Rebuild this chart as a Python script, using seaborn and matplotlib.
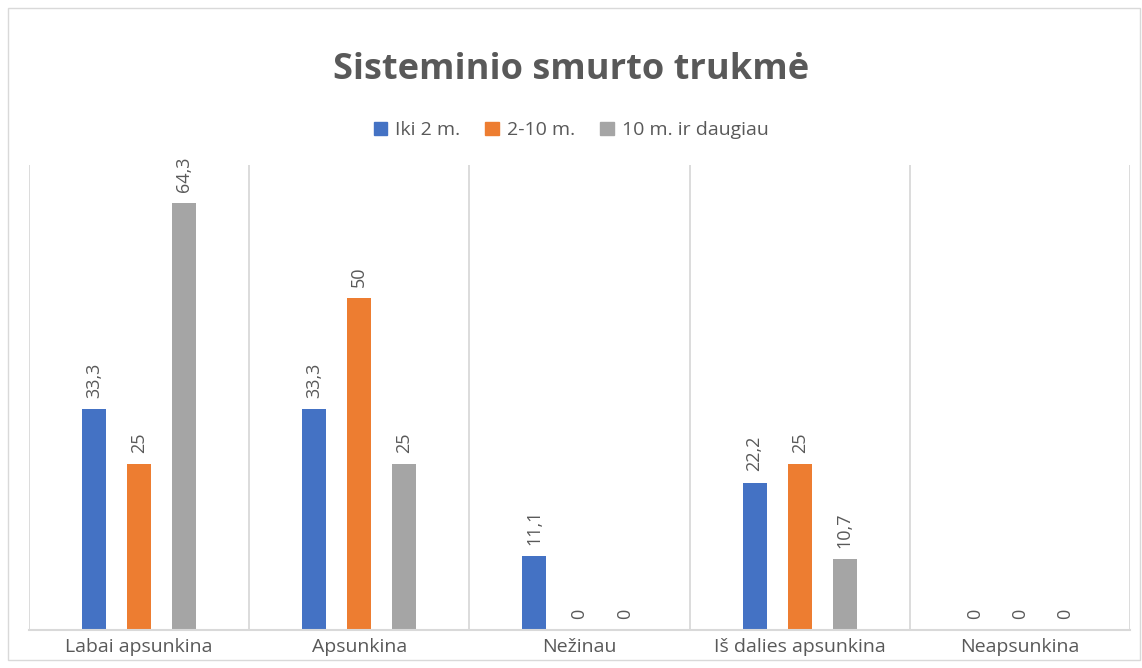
import matplotlib.pyplot as plt
import matplotlib.patches as mpatches
import seaborn as sns
import pandas as pd

categories = ["Labai apsunkina", "Apsunkina", "Nežinau", "Iš dalies apsunkina", "Neapsunkina"]
series = ["Iki 2 m.", "2-10 m.", "10 m. ir daugiau"]
iki_2 = [33.3, 33.3, 11.1, 22.2, 0]
nuo_2_iki_10 = [25, 50, 0, 25, 0]
virs_10 = [64.3, 25, 0, 10.7, 0]
colors = ["#4472C4", "#ED7D31", "#A5A5A5"]
title = "Sisteminio smurto trukmė"


def fmt(v):
    # Excel style: integers plain, decimals with a comma
    if float(v).is_integer():
        return str(int(v))
    return f"{v:.1f}".replace(".", ",")


if __name__ == "__main__":
    df = pd.DataFrame(
        {"category": categories * 3,
         "series": [s for s in series for _ in categories],
         "value": iki_2 + nuo_2_iki_10 + virs_10}
    )

    sns.set_theme(style="white")
    plt.rcParams["font.family"] = ["Open Sans", "DejaVu Sans"]

    fig = plt.figure(figsize=(11.42, 6.68), dpi=100)
    ax = fig.add_axes([0.0254, 0.0569, 0.9641, 0.6961])

    sns.barplot(
        data=df, x="category", y="value", hue="series",
        order=categories, hue_order=series, palette=colors,
        width=0.615, saturation=1, errorbar=None, ax=ax, legend=False,
    )

    # narrow bars like the Excel original
    bar_w = 0.109
    for cont, vals in zip(ax.containers, [iki_2, nuo_2_iki_10, virs_10]):
        for p in cont.patches:
            cx = p.get_x() + p.get_width() / 2
            p.set_x(cx - bar_w / 2)
            p.set_width(bar_w)
            p.set_linewidth(0)
        ax.bar_label(cont, labels=[fmt(v) for v in vals], rotation=90,
                     padding=8, color="#595959", fontsize=13)

    ax.set_xlim(-0.5, len(categories) - 0.5)
    ax.set_ylim(0, 70)
    ax.set_xlabel("")
    ax.set_ylabel("")
    ax.set_yticks([])
    ax.tick_params(axis="x", length=0, pad=6, labelsize=14, labelcolor="#595959")

    for s in ["top", "right", "left"]:
        ax.spines[s].set_visible(False)
    ax.spines["bottom"].set_color("#D9D9D9")
    ax.spines["bottom"].set_linewidth(1.5)

    for x in range(len(categories) + 1):
        ax.axvline(x - 0.5, color="#D9D9D9", linewidth=1.3, zorder=0)

    fig.text(0.5, 0.895, title, ha="center", va="center", fontsize=26,
             fontweight="bold", color="#595959")

    handles = [mpatches.Patch(color=c, label=s) for c, s in zip(colors, series)]
    fig.legend(handles=handles, loc="center", bbox_to_anchor=(0.5, 0.805),
               ncol=3, frameon=False, fontsize=14, handlelength=0.7,
               handleheight=0.7, handletextpad=0.4, columnspacing=1.3,
               labelcolor="#595959")

    fig.patches.append(mpatches.Rectangle(
        (0.007, 0.012), 0.991, 0.976, transform=fig.transFigure,
        fill=False, edgecolor="#D9D9D9", linewidth=1))

    plt.savefig("out.png", dpi=100)
